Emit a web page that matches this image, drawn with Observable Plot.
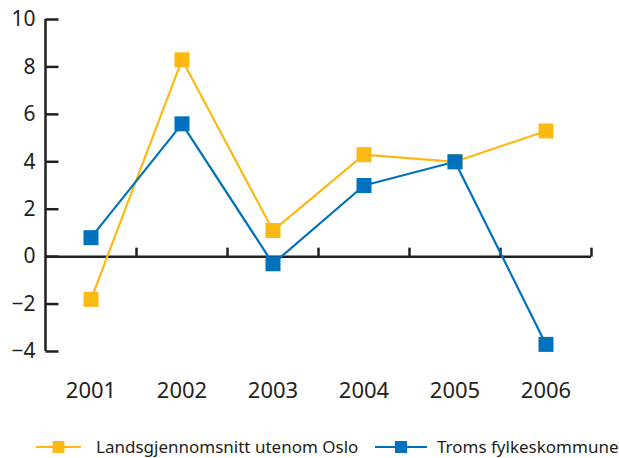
<!DOCTYPE html>
<html><head><meta charset="utf-8">
<script src="https://cdn.jsdelivr.net/npm/d3@7"></script>
<script src="https://cdn.jsdelivr.net/npm/@observablehq/plot@0.6"></script>
<style>
body{margin:0;background:#fff;font-family:"Noto Sans",sans-serif;color:#231f20;}
#wrap{position:relative;width:619px;height:458px;overflow:hidden;}
#legend{position:absolute;left:0;top:435px;width:619px;height:23px;font-size:17px;}
.item{position:absolute;top:0;height:23px;}
.item svg{position:absolute;left:0;top:5px;}
.item span{position:absolute;top:0;line-height:23px;white-space:nowrap;}
</style></head>
<body><div id="wrap"><div id="chart"></div><div id="legend"></div></div>
<script>
const years = [2001, 2002, 2003, 2004, 2005, 2006];
const landsgjennomsnitt = [-1.8, 8.3, 1.1, 4.3, 4.0, 5.3];
const troms = [0.8, 5.6, -0.3, 3.0, 4.0, -3.7];
const seriesNames = ["Landsgjennomsnitt utenom Oslo", "Troms fylkeskommune"];
const seriesColors = ["#FDB913", "#0071BC"];
const yTicks = [-4, -2, 0, 2, 4, 6, 8, 10];

const data = [
  ...years.map((y, i) => ({year: y, value: landsgjennomsnitt[i], series: seriesNames[0]})),
  ...years.map((y, i) => ({year: y, value: troms[i], series: seriesNames[1]}))
];
const boundaries = years.map(y => y + 0.5);
const axisColor = "#231f20";

const tickUp = {draw(ctx) { ctx.moveTo(0, 0); ctx.lineTo(0, -9); }};
const tickRight = {draw(ctx) { ctx.moveTo(0, 0); ctx.lineTo(13, 0); }};
const squareSym = {draw(ctx) { ctx.rect(-7.5, -7.5, 15, 15); }};

const chart = Plot.plot({
  width: 619, height: 420,
  marginLeft: 45, marginRight: 28, marginTop: 19, marginBottom: 69,
  style: {fontFamily: "Noto Sans", fontSize: "21px", color: axisColor, background: "white"},
  x: {domain: [years[0] - 0.5, years[years.length - 1] + 0.5]},
  y: {domain: [-4, 10]},
  color: {domain: seriesNames, range: seriesColors},
  marks: [
    Plot.axisY({ticks: yTicks, tickSize: 0, tickPadding: 10, label: null, fontSize: 21}),
    Plot.axisX({ticks: years, tickSize: 0, tickPadding: 31, label: null, tickFormat: d => String(d), fontSize: 22}),
    Plot.ruleX([years[0] - 0.5], {y1: yTicks[0], y2: yTicks[yTicks.length - 1], stroke: axisColor, strokeWidth: 2.5}),
    Plot.dot(yTicks, {x: years[0] - 0.5, y: d => d, symbol: tickRight, stroke: axisColor, strokeWidth: 2.5, fill: "none"}),
    Plot.ruleY([0], {x1: years[0] - 0.5, x2: years[years.length - 1] + 0.5, stroke: axisColor, strokeWidth: 2.5}),
    Plot.dot(boundaries, {x: d => d, y: 0, symbol: tickUp, stroke: axisColor, strokeWidth: 2.5, fill: "none"}),
    Plot.line(data, {x: "year", y: "value", stroke: "series", z: "series", strokeWidth: 2.2}),
    Plot.dot(data, {x: "year", y: "value", fill: "series", symbol: squareSym, stroke: "none"})
  ]
});
document.getElementById("chart").appendChild(chart);

const legendLayout = [
  {left: 36, lineW: 45, textX: 60},
  {left: 375, lineW: 52, textX: 62}
];
const legend = document.getElementById("legend");
seriesNames.forEach((name, i) => {
  const L = legendLayout[i];
  const item = document.createElement("div");
  item.className = "item";
  item.style.left = L.left + "px";
  item.innerHTML = `<svg width="${L.lineW}" height="14"><line x1="0" x2="${L.lineW}" y1="7" y2="7" stroke="${seriesColors[i]}" stroke-width="2.2"/><rect x="${L.lineW/2 - 6}" y="1" width="12" height="12" fill="${seriesColors[i]}"/></svg><span style="left:${L.textX}px">${name}</span>`;
  legend.appendChild(item);
});
</script></body></html>
